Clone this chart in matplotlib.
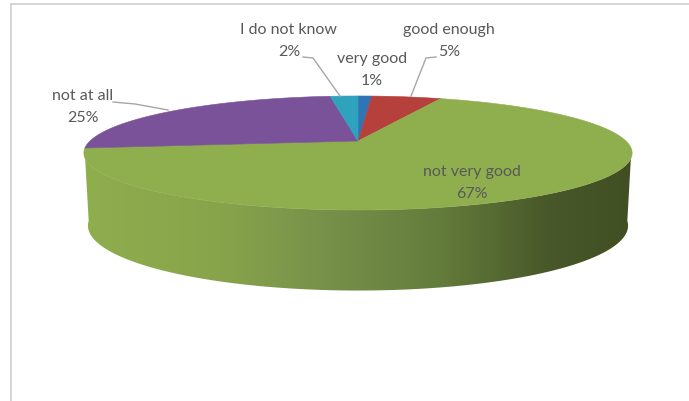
import numpy as np
import matplotlib
matplotlib.use('Agg')
import matplotlib.pyplot as plt
from matplotlib.colors import LinearSegmentedColormap
from matplotlib.patches import Polygon

labels = ['very good', 'good enough', 'not very good', 'not at all', 'I do not know']
values = [1, 5, 67, 25, 2]
colors = ['#2f74b5', '#b5403c', '#8fae4e', '#7a5299', '#2fa3bd']
label_pos = [(372, 70), (449, 41), (472, 183), (83, 107), (289, 41)]
side_stops = [(0.0, '#8fae4e'), (0.25, '#88a44b'), (0.45, '#76904a'), (0.65, '#647c3b'),
              (0.85, '#48582a'), (1.0, '#414f22')]
leaders = [[(303, 57), (313, 58), (340, 96)],
           [(436, 57), (426, 58), (411, 96)],
           [(113, 102), (135, 104), (168, 110)]]

W, H = 689, 401
fig = plt.figure(figsize=(W / 100, H / 100), dpi=100)
ax = fig.add_axes([0, 0, 1, 1])
ax.set_xlim(0, W)
ax.set_ylim(H, 0)
ax.axis('off')


# perspective view of a disc, so the apex sits above the middle of the ellipse
def project(theta, r=1.0, cx=358, y0=141, rx=268, ry=54.5, k=0.2105):
    u = r * np.sin(theta)
    v = r * np.cos(theta)
    w = 1 + k * v
    return cx + rx * u / w, y0 - ry * v / w


def project_bottom(theta):
    return project(theta, cx=358, y0=212, rx=264, ry=62, k=0.2105)


# side wall
t = np.radians(np.linspace(262, 98, 200))
tx, ty = project(t)
bx, by = project_bottom(t)
side = Polygon(np.r_[np.c_[tx, ty], np.c_[bx, by][::-1]], closed=True, fc='none', ec='none')
ax.add_patch(side)
cmap = LinearSegmentedColormap.from_list('side', side_stops)
img = ax.imshow(np.linspace(0, 1, 256)[None, :], cmap=cmap, aspect='auto',
                extent=[84, 631, 300, 130], zorder=1)
img.set_clip_path(side)
ax.set_xlim(0, W)
ax.set_ylim(H, 0)

# top face
edges = np.cumsum([0] + values) / sum(values) * 2 * np.pi
for i in range(len(values)):
    t = np.linspace(edges[i], edges[i + 1], 150)
    x, y = project(t)
    ax.add_patch(Polygon(np.r_[[project(0, 0)], np.c_[x, y]], closed=True,
                         fc=colors[i], ec=colors[i], lw=0.4, zorder=2))

for pts in leaders:
    p = np.array(pts)
    ax.plot(p[:, 0], p[:, 1], color='#a6a6a6', lw=1, zorder=3)

for name, val, (lx, ly) in zip(labels, values, label_pos):
    ax.text(lx, ly, f'{name}\n{val}%', ha='center', va='center', color='#595959',
            fontsize=11.5, family='Lato', linespacing=1.75, zorder=4)

# frame of the pasted picture
ax.plot([11, 11], [401, 4], color='#cfcfcf', lw=1.2)
ax.plot([11, 689], [4, 4], color='#cfcfcf', lw=1.2)

fig.savefig('out.png', dpi=100)
